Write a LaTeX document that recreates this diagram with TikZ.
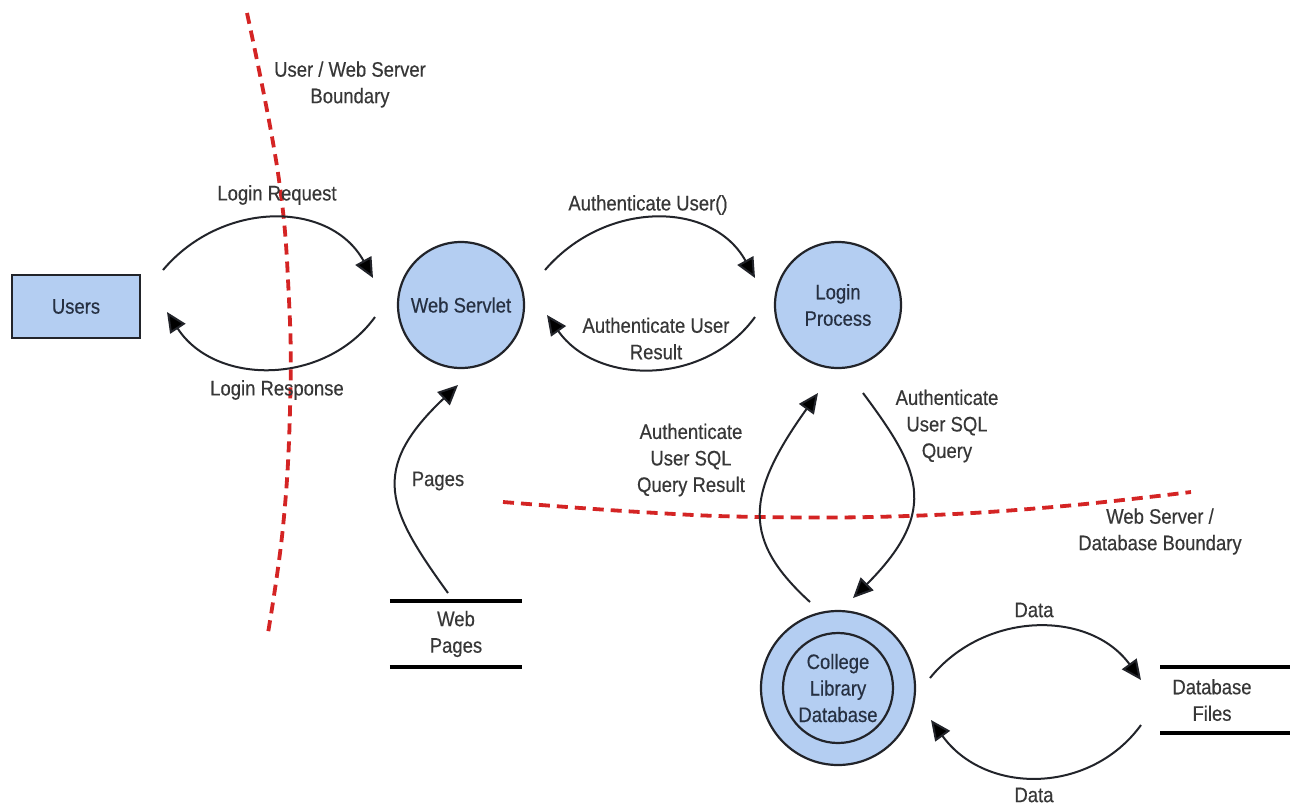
\documentclass[tikz,border=0pt]{standalone}
\usepackage{fontspec}
\setmainfont{Liberation Sans}[FakeStretch=0.88,FakeBold=0.4]
\usetikzlibrary{arrows.meta}
\definecolor{bluefill}{RGB}{180,206,242}
\definecolor{edgec}{RGB}{34,36,42}
\definecolor{nodetxt}{RGB}{38,48,66}
\definecolor{labtxt}{RGB}{55,55,55}
\definecolor{bndred}{RGB}{212,36,36}
\tikzset{
  every node/.style={font=\fontsize{21}{26.5}\selectfont, align=center, inner sep=0pt},
  proc/.style={circle, draw=edgec, line width=2.2pt, fill=bluefill, text=nodetxt, minimum size=126pt},
  entity/.style={rectangle, draw=edgec, line width=2pt, fill=bluefill, text=nodetxt, minimum width=128pt, minimum height=63pt},
  storenode/.style={text=labtxt, minimum height=66pt},
  storeline/.style={line width=3.5pt, black},
  lab/.style={text=labtxt},
  flow/.style={line width=2pt, edgec, -{Triangle[length=20pt,width=18pt,fill=black]}},
  bnd/.style={line width=3.8pt, bndred, dash pattern=on 11pt off 7pt}
}
\begin{document}
\begin{tikzpicture}[x=1pt,y=-1pt]
\useasboundingbox (0,0) rectangle (1293,807);
\fill[white] (0,0) rectangle (1293,807);

% boundaries
\draw[bnd] plot[smooth, tension=0.7] coordinates {(247,13) (278,173) (289,300) (290,410) (283,527) (268,633)};
\draw[bnd] plot[smooth, tension=0.7] coordinates {(503,502) (640,512) (761,517) (907,516) (1053,507) (1191,492)};

% nodes
\node[entity] (users) at (76,306.5) {Users};
\node[proc] (ws) at (461,305) {Web Servlet};
\node[proc] (lp) at (838,305) {Login\\Process};
\node[proc, minimum size=154pt] (db) at (838,688) {};
\node[circle, draw=edgec, line width=2.2pt, minimum size=110pt, text=nodetxt] (dbin) at (db.center) {College\\Library\\Database};
\node[storenode, minimum width=132pt] (wp) at (456,634) {Web\\Pages};
\draw[storeline] (wp.north west) -- (wp.north east);
\draw[storeline] (wp.south west) -- (wp.south east);
\node[storenode] (dbf) at (1212,700) {Database\\Files};
\draw[storeline] ([xshift=-52pt]dbf.north) -- ([xshift=78pt]dbf.north);
\draw[storeline] ([xshift=-52pt]dbf.south) -- ([xshift=78pt]dbf.south);

% flows
\draw[flow] ([shift={(87,-36.5)}]users.center) .. controls (222,200) and (330,200) .. ([shift={(-88,-27)}]ws.center);
\draw[flow] ([shift={(-86,12)}]ws.center) .. controls (325,386) and (215,386) .. ([shift={(91,5.5)}]users.center);
\draw[flow] ([shift={(84,-35)}]ws.center) .. controls (605,200) and (712,200) .. ([shift={(-83,-27)}]lp.center);
\draw[flow] ([shift={(-83,12)}]lp.center) .. controls (705,386) and (597,386) .. ([shift={(86,10)}]ws.center);
\draw[flow] ([shift={(-8,-41)}]wp.center) .. controls (388,510) and (368,470) .. ([shift={(-3,80)}]ws.center);
\draw[flow] ([shift={(-28,-86)}]db.center) .. controls (742,540) and (745,495) .. ([shift={(-20,88)}]lp.center);
\draw[flow] ([shift={(25,88)}]lp.center) .. controls (918,467) and (942,509) .. ([shift={(15,-90)}]db.center);
\draw[flow] ([shift={(92,-10)}]db.center) .. controls (985,610) and (1090,610) .. ([shift={(-71,-20)}]dbf.center);
\draw[flow] ([shift={(-71,25)}]dbf.center) .. controls (1090,795) and (985,795) .. ([shift={(93,32)}]db.center);

% labels
\node[lab] (lb1) at (350,84.5) {User / Web Server\\Boundary};
\node[lab] (lreq) at (277,195) {Login Request};
\node[lab] (lresp) at (277,390) {Login Response};
\node[lab] (lau) at (648,205) {Authenticate User()};
\node[lab] (laur) at (656,338.5) {Authenticate User\\Result};
\node[lab] (lpg) at (438,481) {Pages};
\node[lab] (lsqr) at (691,460) {Authenticate\\User SQL\\Query Result};
\node[lab] (lsq) at (947,426) {Authenticate\\User SQL\\Query};
\node[lab] (lb2) at (1160,531.5) {Web Server /\\Database Boundary};
\node[lab] (ld1) at (1034,610) {Data};
\node[lab] (ld2) at (1034,795) {Data};
\end{tikzpicture}
\end{document}
